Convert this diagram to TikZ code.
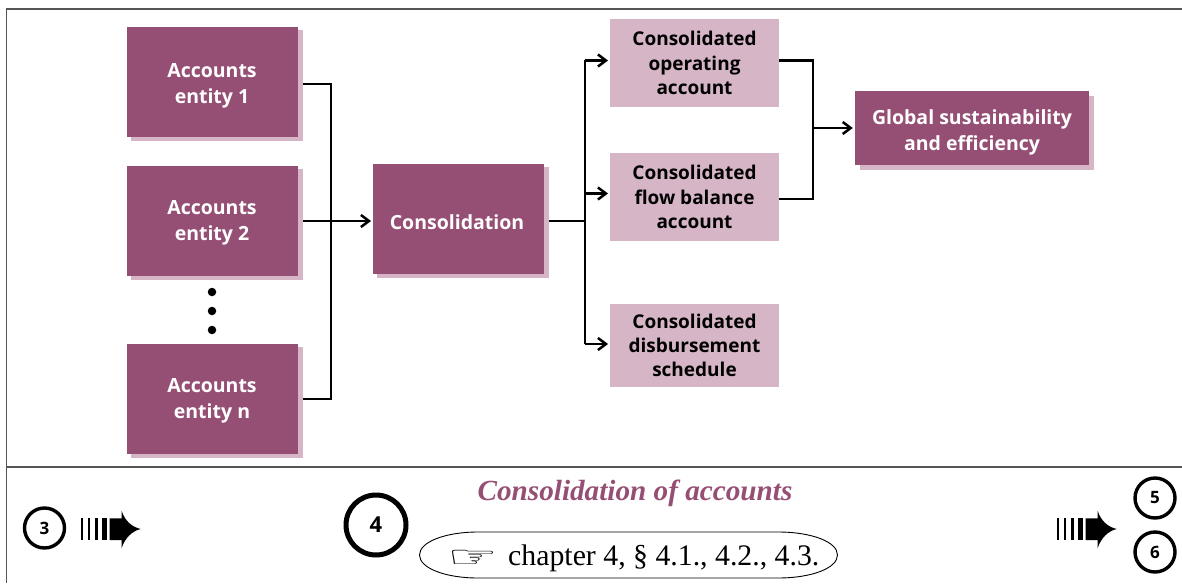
\documentclass[tikz,border=0pt]{standalone}
\usepackage{fontspec}
\setmainfont{Liberation Serif}
\newfontfamily\boxfont{Open Sans}
\newfontfamily\symfont{DejaVu Sans}
\definecolor{plum}{HTML}{964F74}
\definecolor{pale}{HTML}{D5B5C6}
\definecolor{framegray}{HTML}{555555}
\tikzset{
  boxtext/.style={font=\boxfont\bfseries\fontsize{19}{24.2}\selectfont,align=center,inner sep=0pt},
  darktext/.style={font=\boxfont\bfseries\fontsize{19.5}{25.8}\selectfont,align=center,inner sep=0pt,text=white},
  darkbox/.style={darktext,fill=plum,minimum width=171,minimum height=110},
  shadowbox/.style={fill=pale,inner sep=0pt,minimum width=172,minimum height=111},
  palebox/.style={boxtext,fill=pale,text=black,minimum width=169},
  conn/.style={draw=black,line width=2.5pt,line join=miter},
  arr/.style={conn,-{Straight Barb[length=8pt,width=12pt,line width=2.5pt]}},
  badge/.style={circle,draw=black,line width=3.4pt,minimum size=40,inner sep=0pt,font=\boxfont\bfseries\fontsize{17}{18}\selectfont},
  dotmark/.style={circle,fill=black,inner sep=0pt,minimum size=8.5},
  frameline/.style={draw=framegray,line width=1.3pt},
}
\usetikzlibrary{arrows.meta,calc}
\begin{document}
\begin{tikzpicture}[x=1pt,y=-1pt]
\useasboundingbox (0,0) rectangle (1182,583);
% frame
\draw[frameline] (6.5,583) -- (6.5,9) -- (1182,9);
\draw[frameline] (6.5,467) -- (1182,467);
% left column
\node[shadowbox] (a1s) at (217,85.5) {};
\node[darkbox] (a1) at (212.5,82) {};
\node[darktext] (a1t) at (212,85.5) {Accounts\\entity 1};
\node[shadowbox] (a2s) at (217,224.5) {};
\node[darkbox] (a2) at (212.5,221) {};
\node[darktext] (a2t) at (212,222.5) {Accounts\\entity 2};
\node[shadowbox] (a3s) at (217,402.5) {};
\node[darkbox] (a3) at (212.5,399) {};
\node[darktext] (a3t) at (212,401) {Accounts\\entity n};
\node[dotmark] (d1) at (212,292) {};
\node[dotmark] (d2) at (212,311) {};
\node[dotmark] (d3) at (212,330) {};
% consolidation
\node[shadowbox] (cs) at (463,222.5) {};
\node[darkbox] (c) at (458.5,219) {};
\node[darktext] (ct) at (457,222) {Consolidation};
% results
\node[palebox,minimum height=88] (r1) at (694.5,63) {Consolidated\\operating\\account};
\node[palebox,minimum height=88] (r2) at (694.5,197) {Consolidated\\flow balance\\account};
\node[palebox,minimum height=83] (r3) at (694.5,345.5) {Consolidated\\disbursement\\schedule};
% global
\node[fill=pale,inner sep=0pt,minimum width=234,minimum height=74] (gs) at (977,133) {};
\node[fill=plum,inner sep=0pt,minimum width=234,minimum height=74] (g) at (972,128) {};
\node[darktext] (gt) at (972,132.5) {Global sustainability\\and efficiency};
% connectors left
\coordinate (busa) at (331,84);
\coordinate (busb) at (331,399);
\draw[conn] (a1s.east |- busa) -- (busa) -- (busb) -- (a3s.east |- busb);
\coordinate (ctar) at (371,221);
\draw[arr] (a2s.east |- ctar) -- (ctar);
% connectors middle
\coordinate (busc) at (585,221);
\coordinate (t1) at (608,60.5);
\coordinate (t2) at (608,193.5);
\coordinate (t3) at (608,344);
\draw[conn] (cs.east |- busc) -- (busc);
\draw[conn] (busc |- t1) -- (busc |- t3);
\draw[arr] (busc |- t1) -- (t1);
\draw[arr] (busc |- t2) -- (t2);
\draw[arr] (busc |- t3) -- (t3);
% connectors right
\coordinate (busd) at (813,60.5);
\coordinate (buse) at (813,199);
\draw[conn] (r1.east |- busd) -- (busd) -- (buse) -- (r2.east |- buse);
\draw[arr] (busd |- g.west) -- ([xshift=-2pt]g.west);
% footer
\node[badge] (b3) at (44.5,528) {3};
\node[circle,draw=black,line width=5pt,minimum size=60,inner sep=0pt,font=\boxfont\bfseries\fontsize{22}{24}\selectfont] (b4) at (376,525) {4};
\node[badge] (b5) at (1155,498) {5};
\node[badge] (b6) at (1155,552) {6};
\foreach \ox in {0,976}{
  \begin{scope}[shift={(\ox,0)}]
    \fill[black] (81.3,518.3) rectangle (83,540);
    \fill[black] (88,518.3) rectangle (90,540);
    \fill[black] (94.7,518.3) rectangle (98,540);
    \fill[black] (101.7,518.3) rectangle (107.3,540);
    \fill[black] (109.7,518.3) -- (121.7,518.3) -- (121.7,511) .. controls (125,521) and (132,527) .. (140.7,529)
       .. controls (132,531) and (125,538) .. (121.7,548) -- (121.7,540) -- (109.7,540) -- cycle;
  \end{scope}
}
\node[inner sep=0pt,text=plum,font=\fontsize{29.2}{32}\selectfont\bfseries\itshape] (title) at (635,493) {Consolidation of accounts};
\coordinate (pl) at (419.5,555);
\coordinate (pr) at (837.5,555);
\draw[line width=0.9pt] (pl) .. controls (419.5,542) and (445,532) .. (478,532) -- (778,532)
   .. controls (812,532) and (837.5,542) .. (pr) .. controls (837.5,568) and (812,578) .. (778,578)
   -- (478,578) .. controls (445,578) and (419.5,568) .. (pl) -- cycle;
\node[inner sep=0pt,anchor=base west,font=\fontsize{29.8}{31}\selectfont] (chap) at (508,565) {chapter 4, § 4.1., 4.2., 4.3.};
\node[inner sep=0pt,font=\symfont\fontsize{42}{44}\selectfont] (hand) at (473,559) {\scalebox{1.35}[0.72]{☞}};
\end{tikzpicture}
\end{document}
